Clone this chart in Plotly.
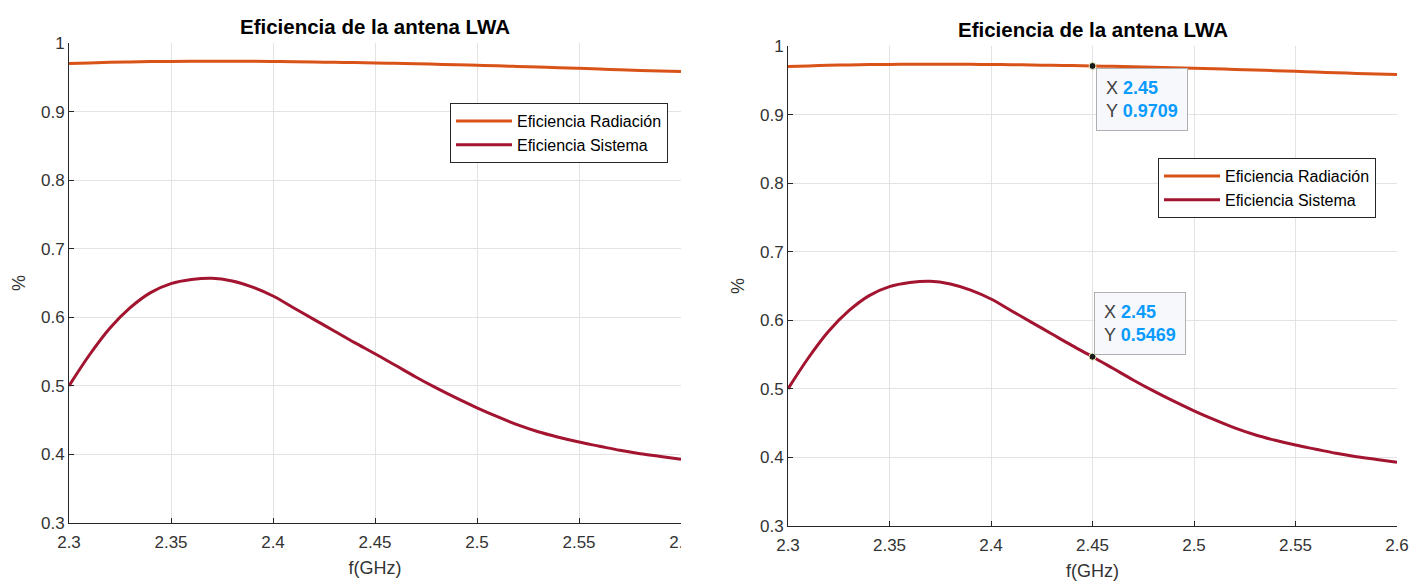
import plotly.graph_objects as go

W, H = 1411, 581

# Frequency samples (GHz)
freq = [2.30, 2.31, 2.32, 2.33, 2.34, 2.35, 2.36, 2.37, 2.38, 2.39,
        2.40, 2.41, 2.42, 2.43, 2.44, 2.45, 2.46, 2.47, 2.48, 2.49,
        2.50, 2.51, 2.52, 2.53, 2.54, 2.55, 2.56, 2.57, 2.58, 2.59, 2.60]

# Radiation efficiency
ef_rad = [0.9700, 0.9710, 0.9718, 0.9724, 0.9729, 0.9732, 0.9734, 0.9735, 0.9735, 0.9733,
          0.9730, 0.9727, 0.9723, 0.9718, 0.9714, 0.9709, 0.9703, 0.9697, 0.9690, 0.9683,
          0.9675, 0.9667, 0.9658, 0.9649, 0.9640, 0.9630, 0.9620, 0.9610, 0.9600, 0.9592, 0.9585]

# System efficiency
ef_sys = [0.500, 0.545, 0.584, 0.614, 0.636, 0.649, 0.655, 0.657, 0.653, 0.644,
          0.631, 0.614, 0.597, 0.580, 0.563, 0.5469, 0.530, 0.513, 0.497, 0.482,
          0.468, 0.455, 0.443, 0.433, 0.425, 0.418, 0.412, 0.406, 0.401, 0.397, 0.393]

x_ticks = [2.30, 2.35, 2.40, 2.45, 2.50, 2.55, 2.60]
x_tick_text = ["2.3", "2.35", "2.4", "2.45", "2.5", "2.55", "2.6"]
y_ticks = [0.3, 0.4, 0.5, 0.6, 0.7, 0.8, 0.9, 1.0]
y_tick_text = ["0.3", "0.4", "0.5", "0.6", "0.7", "0.8", "0.9", "1"]

# Data-tip index (f = 2.45 GHz)
tip_idx = 15

title_text = "Eficiencia de la antena LWA"
name_rad = "Eficiencia Radiación"
name_sys = "Eficiencia Sistema"

C_RAD = "#D95319"
C_SYS = "#A2142F"
AX = "#262626"
GRID = "#E3E3E3"
FONT = "Liberation Sans, Arial, Helvetica, sans-serif"


def px_x(p):
    return p / W


def px_y(p):
    return 1 - p / H


fig = go.Figure()

panels = [
    # (xaxis id, yaxis id, legend id, left px, right px, top px, bottom px)
    ("x", "y", "legend", 69, 681, 43, 523),
    ("x2", "y2", "legend2", 788, 1397, 46, 526),
]

for xa, ya, lg, *_ in panels:
    fig.add_trace(go.Scatter(x=freq, y=ef_rad, mode="lines", name=name_rad,
                             line=dict(color=C_RAD, width=3, shape="spline"),
                             xaxis=xa, yaxis=ya, legend=lg, hoverinfo="skip"))
    fig.add_trace(go.Scatter(x=freq, y=ef_sys, mode="lines", name=name_sys,
                             line=dict(color=C_SYS, width=3, shape="spline"),
                             xaxis=xa, yaxis=ya, legend=lg, hoverinfo="skip"))

# Data-tip markers on the right panel
fig.add_trace(go.Scatter(x=[freq[tip_idx], freq[tip_idx]],
                         y=[ef_rad[tip_idx], ef_sys[tip_idx]],
                         mode="markers", showlegend=False, hoverinfo="skip",
                         marker=dict(color="#1a1a1a", size=7,
                                     line=dict(color="#F2F2C0", width=1)),
                         xaxis="x2", yaxis="y2"))

axis_common = dict(
    showgrid=True, gridcolor=GRID, gridwidth=1, zeroline=False,
    showline=True, linecolor=AX, linewidth=1, mirror=False,
    ticks="inside", ticklen=5, tickcolor=AX, tickwidth=1,
    tickfont=dict(family=FONT, size=17, color="#333333"),
    automargin=False,
)

layout = dict(
    width=W, height=H,
    margin=dict(l=0, r=0, t=0, b=0),
    paper_bgcolor="white", plot_bgcolor="white",
    font=dict(family=FONT, color=AX),
    annotations=[], shapes=[],
)

for i, (xa, ya, lg, l, r, t, b) in enumerate(panels):
    xkey = "xaxis" if i == 0 else "xaxis2"
    ykey = "yaxis" if i == 0 else "yaxis2"
    layout[xkey] = dict(
        axis_common, domain=[px_x(l), px_x(r)], range=[2.3, 2.6],
        tickvals=x_ticks, ticktext=x_tick_text, anchor=ya, ticklabelstandoff=4,
        title=dict(text="f(GHz)", font=dict(family=FONT, size=18, color="#333333"), standoff=9),
    )
    layout[ykey] = dict(
        axis_common, domain=[px_y(b), px_y(t)], range=[0.3, 1.0],
        tickvals=y_ticks, ticktext=y_tick_text, anchor=xa, ticklabelstandoff=0,
        title=dict(text="%", font=dict(family=FONT, size=18, color="#333333"), standoff=10),
    )
    layout["annotations"].append(dict(
        text="<b>" + title_text + "</b>", xref="paper", yref="paper",
        x=px_x((l + r) / 2), y=px_y(t - 16), xanchor="center", yanchor="middle",
        showarrow=False, font=dict(family=FONT, size=20.5, color="#000000"),
    ))

legend_common = dict(
    bgcolor="white", bordercolor=AX, borderwidth=1,
    font=dict(family=FONT, size=16, color="#000000"),
    xanchor="right", yanchor="top", tracegroupgap=0, itemwidth=56,
)
layout["legend"] = dict(legend_common, x=px_x(668), y=px_y(103))
layout["legend2"] = dict(legend_common, x=px_x(1376), y=px_y(158))

# Data-tip boxes
tips = [
    (ef_rad[tip_idx], "left", "top", 3, -2),
    (ef_sys[tip_idx], "left", "bottom", 1, 2),
]
for val, xanc, yanc, xs, ys in tips:
    txt = ("X <b><span style='color:#0A9BFF'>%s</span></b><br>"
           "Y <b><span style='color:#0A9BFF'>%.4f</span></b>") % (
        ("%.2f" % freq[tip_idx]), val)
    layout["annotations"].append(dict(
        text=txt, xref="x2", yref="y2", x=freq[tip_idx], y=val,
        xanchor=xanc, yanchor=yanc, xshift=xs, yshift=ys, showarrow=False,
        align="left", bgcolor="#F7F8FC", bordercolor="#B0B0B0", borderwidth=1,
        borderpad=9, font=dict(family=FONT, size=18, color="#404040"),
    ))

# Left panel is cut at its right edge
layout["shapes"].append(dict(
    type="rect", xref="paper", yref="paper",
    x0=px_x(681), x1=px_x(712), y0=0, y1=px_y(526),
    fillcolor="white", line=dict(width=0), layer="above",
))

fig.update_layout(**layout)
fig.write_html("out.html")
